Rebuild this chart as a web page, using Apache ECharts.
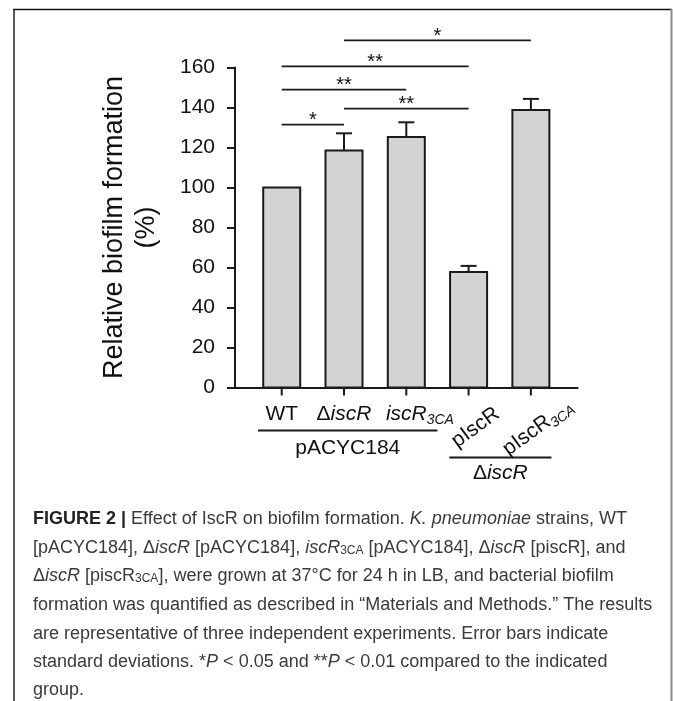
<!DOCTYPE html>
<html><head><meta charset="utf-8">
<script src="https://cdn.jsdelivr.net/npm/echarts@6/dist/echarts.min.js"></script>
<style>html,body{margin:0;padding:0;background:#fff}#c{width:673px;height:701px}</style>
</head><body><div id="c"></div>
<script>
// ---- data ----
const categories = ['WT', 'ΔiscR', 'iscR3CA', 'pIscR', 'pIscR3CA'];
const categoryLabels = ['{n|WT}', '{n|Δ}{i|iscR}', '{g|3CA}{i|iscR}{s|3CA}', '{n|pIscR}', '{n|pIscR}{s|3CA}'];
const labelRotated = [false, false, false, true, true];
const values = [100, 118.5, 125.3, 57.8, 138.7];
const errors = [0, 8.6, 7.3, 3.0, 5.6];
const yTickValues = [0, 20, 40, 60, 80, 100, 120, 140, 160];
const comparisonFrom = [1, 0, 0, 1, 0];
const comparisonTo = [4, 3, 2, 3, 1];
const comparisonMarks = ['*', '**', '**', '**', '*'];
const comparisonHeights = [173.6, 160.6, 148.9, 139.4, 131.4];
const groupNames = ['{n|pACYC184}', '{n|Δ}{i|iscR}'];
const groupFrom = [0, 3];
const groupTo = [2, 4];

// ---- layout / style ----
const FONT = 'Liberation Sans, Arial, sans-serif';
const INK = '#1a1a1a';
const groupLayout = [
  {lineDy: 43, labelDy: 61, padL: 0.38, padR: 0.5},
  {lineDy: 70, labelDy: 86, padL: 0.31, padR: 0.33}
];
const labelRich = {
  n: {fontSize: 21, fontFamily: FONT, fill: '#111', lineHeight: 26},
  i: {fontSize: 21, fontFamily: FONT, fontStyle: 'italic', fill: '#111', lineHeight: 26},
  s: {fontSize: 14, fontFamily: FONT, fontStyle: 'italic', fill: '#111', lineHeight: 14, verticalAlign: 'bottom'},
  g: {fontSize: 14, fontFamily: FONT, fontStyle: 'italic', fill: 'rgba(0,0,0,0)', lineHeight: 14, verticalAlign: 'bottom'}
};

const chart = echarts.init(document.getElementById('c'), null, {renderer: 'canvas'});

const capStyle = {fontSize: 18, fontFamily: FONT, fill: '#3a3a3a'};
const capRich = {
  r: Object.assign({}, capStyle),
  b: Object.assign({}, capStyle, {fontWeight: 'bold', fill: '#222'}),
  i: Object.assign({}, capStyle, {fontStyle: 'italic'}),
  s: Object.assign({}, capStyle, {fontSize: 12, lineHeight: 12, verticalAlign: 'bottom'})
};
const captionLines = [
  '{b|FIGURE 2 |}{r| Effect of IscR on biofilm formation. }{i|K. pneumoniae}{r| strains, WT}',
  '{r|[pACYC184], Δ}{i|iscR}{r| [pACYC184], }{i|iscR}{s|3CA}{r| [pACYC184], Δ}{i|iscR}{r| [piscR], and}',
  '{r|Δ}{i|iscR}{r| [piscR}{s|3CA}{r|], were grown at 37°C for 24 h in LB, and bacterial biofilm}',
  '{r|formation was quantified as described in “Materials and Methods.” The results}',
  '{r|are representative of three independent experiments. Error bars indicate}',
  '{r|standard deviations. *}{i|P}{r| < 0.05 and **}{i|P}{r| < 0.01 compared to the indicated}',
  '{r|group.}'
];
const captionY = [519, 548, 576, 605, 634, 662, 690];

const graphics = [
  {type: 'line', shape: {x1: 13, y1: 9.5, x2: 672, y2: 9.5}, style: {stroke: '#111', lineWidth: 1.5}},
  {type: 'line', shape: {x1: 14, y1: 9, x2: 14, y2: 701}, style: {stroke: '#222', lineWidth: 1.5}},
  {type: 'line', shape: {x1: 671.5, y1: 9, x2: 671.5, y2: 701}, style: {stroke: '#8a8a8a', lineWidth: 2}}
];
captionLines.forEach((t, k) => {
  graphics.push({type: 'text', x: 33, y: captionY[k],
    style: {text: t, rich: capRich, fontSize: 18, fontFamily: FONT, fill: '#3a3a3a', align: 'left', verticalAlign: 'middle'}});
});

const option = {
  animation: false,
  backgroundColor: '#fff',
  grid: {left: 235, top: 67.5, width: 342.6, height: 320},
  xAxis: {
    type: 'value', min: -0.75, max: 4.75,
    axisLine: {show: true, onZero: false, lineStyle: {color: INK, width: 2}},
    axisTick: {show: false}, axisLabel: {show: false}, splitLine: {show: false}
  },
  yAxis: {
    type: 'value', min: 0, max: 160, interval: 20,
    name: 'Relative biofilm formation\n(%)', nameLocation: 'middle', nameGap: 72,
    nameTextStyle: {fontSize: 27, fontFamily: FONT, color: '#111', lineHeight: 32},
    axisLine: {show: true, onZero: false, lineStyle: {color: INK, width: 2}},
    axisTick: {show: true, inside: false, length: 8, lineStyle: {color: INK, width: 2}},
    axisLabel: {fontSize: 21, fontFamily: FONT, color: '#111', margin: 20,
      formatter: v => yTickValues.indexOf(v) >= 0 ? String(v) : ''},
    splitLine: {show: false}
  },
  graphic: graphics,
  series: [
    { // bars with error bars and x ticks
      type: 'custom', clip: false,
      data: values.map((v, i) => [i, v, errors[i]]),
      renderItem(params, api) {
        const i = api.value(0), v = api.value(1), e = api.value(2);
        const base = api.coord([i, 0]);
        const top = api.coord([i, v]);
        const et = api.coord([i, v + e]);
        const step = api.size([1, 0])[0];
        const bw = step * 0.594;
        const st = {stroke: INK, lineWidth: 2};
        const ch = [
          {type: 'rect', shape: {x: base[0] - bw / 2, y: top[1], width: bw, height: base[1] - top[1]},
            style: {fill: '#d3d3d3', stroke: INK, lineWidth: 2}},
          {type: 'line', shape: {x1: base[0], y1: base[1], x2: base[0], y2: base[1] + 8}, style: st}
        ];
        if (e > 0) {
          ch.push({type: 'line', shape: {x1: top[0], y1: top[1], x2: top[0], y2: et[1]}, style: st});
          ch.push({type: 'line', shape: {x1: top[0] - 8, y1: et[1], x2: top[0] + 8, y2: et[1]}, style: st});
        }
        return {type: 'group', children: ch};
      }
    },
    { // category labels
      type: 'custom', clip: false, silent: true,
      data: categories.map((c, i) => [i, 0]),
      renderItem(params, api) {
        const i = params.dataIndex;
        const p = api.coord([api.value(0), 0]);
        const rot = labelRotated[i];
        return {
          type: 'text',
          x: rot ? p[0] + 7 : p[0],
          y: rot ? p[1] + 40 : p[1] + 27,
          rotation: rot ? 36 * Math.PI / 180 : 0,
          style: {text: categoryLabels[i], rich: labelRich, align: 'center', verticalAlign: 'middle',
            fontSize: 21, fontFamily: FONT, fill: '#111'}
        };
      }
    },
    { // group brackets below axis
      type: 'custom', clip: false, silent: true,
      data: groupNames.map((g, k) => [groupFrom[k], groupTo[k]]),
      renderItem(params, api) {
        const k = params.dataIndex;
        const L = groupLayout[k];
        const a = api.coord([api.value(0) - L.padL, 0]);
        const b = api.coord([api.value(1) + L.padR, 0]);
        return {type: 'group', children: [
          {type: 'line', shape: {x1: a[0], y1: a[1] + L.lineDy, x2: b[0], y2: a[1] + L.lineDy},
            style: {stroke: INK, lineWidth: 1.8}},
          {type: 'text', x: (a[0] + b[0]) / 2, y: a[1] + L.labelDy,
            style: {text: groupNames[k], rich: labelRich, align: 'center', verticalAlign: 'middle',
              fontSize: 21, fontFamily: FONT, fill: '#111'}}
        ]};
      }
    },
    { // significance lines
      type: 'custom', clip: false, silent: true,
      data: comparisonFrom.map((f, k) => [f, comparisonTo[k], comparisonHeights[k]]),
      renderItem(params, api) {
        const k = params.dataIndex;
        const a = api.coord([api.value(0), api.value(2)]);
        const b = api.coord([api.value(1), api.value(2)]);
        return {type: 'group', children: [
          {type: 'line', shape: {x1: a[0], y1: a[1], x2: b[0], y2: b[1]}, style: {stroke: INK, lineWidth: 1.8}},
          {type: 'text', x: (a[0] + b[0]) / 2, y: a[1] - 4,
            style: {text: comparisonMarks[k], align: 'center', verticalAlign: 'middle',
              fontSize: 20, fontFamily: FONT, fill: '#111'}}
        ]};
      }
    }
  ]
};
chart.setOption(option);
</script></body></html>
